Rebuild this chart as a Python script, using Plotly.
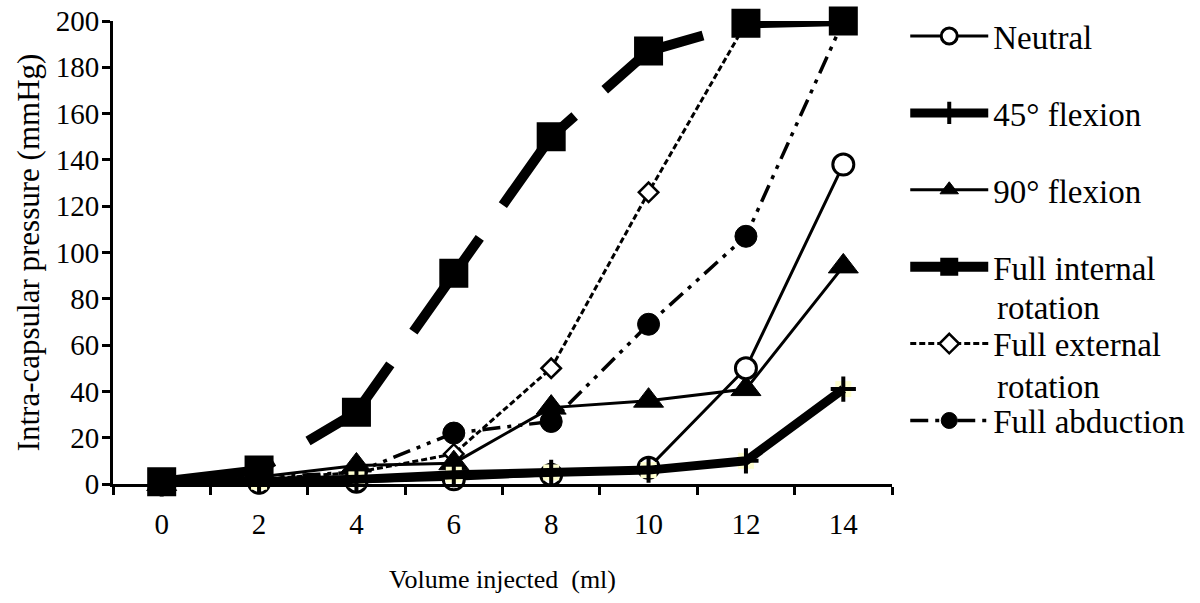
import plotly.graph_objects as go

volume = [0, 2, 4, 6, 8, 10, 12, 14]
x_tick_labels = ["0", "2", "4", "6", "8", "10", "12", "14"]

neutral = [0, 0.5, 1, 2, 4, 7, 50, 138]
flex45 = [0, 1, 2, 4, 5, 6, 10, 41]
flex90 = [0, 3, 8, 9, 33, 36, 41, 94]
int_rot = [1, 6, 31, 91, 150, 187, 199, 200]
ext_rot = [0, 2, 5, 13, 50, 126, 199, 200]
abduction = [0, 3, 5, 22, 27, 69, 107, 200]

names = ["Neutral", "45° flexion", "90° flexion",
         "Full internal", "Full external", "Full abduction"]
second_lines = ["rotation", "rotation"]

SERIF = "Liberation Serif, Times New Roman, serif"
LEG_FONT = 33
fig = go.Figure()

fig.add_trace(go.Scatter(
    x=volume, y=abduction, mode="lines+markers", name=names[5], legendrank=6, legendgroup="g6",
    line=dict(color="black", width=3.5, dash="18px,7px,4px,7px,4px,7px"),
    marker=dict(symbol="circle", size=22, color="black", line=dict(width=1, color="black"))))

fig.add_trace(go.Scatter(
    x=volume, y=ext_rot, mode="lines+markers", name=names[4], legendrank=5, legendgroup="g5",
    line=dict(color="black", width=3, dash="6px,3px"),
    marker=dict(symbol="diamond", size=15, color="white", line=dict(width=2.5, color="black"))))

fig.add_trace(go.Scatter(
    x=volume, y=flex90, mode="lines+markers", name=names[2], legendrank=3, legendgroup="g3",
    line=dict(color="black", width=3),
    marker=dict(symbol="triangle-up", size=26, color="black", line=dict(width=1, color="black"))))

fig.add_trace(go.Scatter(
    x=volume, y=neutral, mode="lines+markers", name=names[0], legendrank=1, legendgroup="g1",
    line=dict(color="black", width=3),
    marker=dict(symbol="circle", size=21, color="white", line=dict(width=3, color="black"))))

# pale background squares of the 45° flexion markers (no legend)
fig.add_trace(go.Scatter(x=volume, y=flex45, mode="markers", showlegend=False,
                         hoverinfo="skip",
                         marker=dict(symbol="square", size=16, color="#FFFFD0",
                                     line=dict(width=0))))

fig.add_trace(go.Scatter(
    x=volume, y=flex45, mode="lines+markers", name=names[1], legendrank=2, legendgroup="g2",
    line=dict(color="black", width=9),
    marker=dict(symbol="cross-thin", size=18, color="black", line=dict(width=4, color="black"))))

fig.add_trace(go.Scatter(
    x=volume, y=int_rot, mode="lines+markers", name=names[3], legendrank=4, legendgroup="g4",
    line=dict(color="black", width=10, dash="115px,40px"),
    marker=dict(symbol="square", size=27, color="black", line=dict(width=2, color="black"))))

# second lines of the two-line legend labels
for txt, ypx in zip(second_lines, [308, 387]):
    fig.add_annotation(x=(995 - 113) / 779, y=(484 - ypx) / 463, xref="paper", yref="paper",
                       xanchor="left", yanchor="middle", showarrow=False, text=txt,
                       font=dict(size=LEG_FONT, family=SERIF, color="black"))

fig.update_layout(
    width=1200, height=603,
    paper_bgcolor="white", plot_bgcolor="white",
    margin=dict(l=113, r=308, t=21, b=119, autoexpand=False),
    font=dict(family=SERIF, color="black", size=27),
    showlegend=True,
    legend=dict(x=1.017, xanchor="left", y=1.028, yanchor="top",
                font=dict(size=LEG_FONT, family=SERIF, color="black"),
                traceorder="grouped", valign="middle", itemwidth=78, maxheight=590,
                bgcolor="rgba(0,0,0,0)", tracegroupgap=31),
    xaxis=dict(range=[-1, 15], showline=True, linecolor="black", linewidth=3,
               tickvals=volume, ticktext=x_tick_labels, ticks="",
               showgrid=False, zeroline=False, automargin=False, ticklabelstandoff=12,
               minor=dict(tickvals=[-1, 1, 3, 5, 7, 9, 11, 13, 15], ticks="outside",
                          ticklen=8, tickwidth=2.5, tickcolor="black", showgrid=False),
               tickfont=dict(size=29, family=SERIF, color="black"),
               title=dict(text="Volume injected  (ml)",
                          font=dict(size=26, family=SERIF, color="black"), standoff=32)),
    yaxis=dict(range=[0, 200], dtick=20, showline=True, linecolor="black", linewidth=3,
               ticks="outside", ticklen=8, tickwidth=2.5, tickcolor="black",
               showgrid=False, zeroline=False, ticklabelstandoff=-3, automargin=False,
               ticklabeloverflow="allow",
               tickfont=dict(size=29, family=SERIF, color="black"),
               title=dict(text="Intra-capsular pressure (mmHg)",
                          font=dict(size=31, family=SERIF, color="black"), standoff=7)),
)

fig.update_traces(cliponaxis=False)
fig.write_html("out.html", config={"displayModeBar": False},
               post_script="document.body.style.margin='0';document.body.style.overflow='hidden';")
